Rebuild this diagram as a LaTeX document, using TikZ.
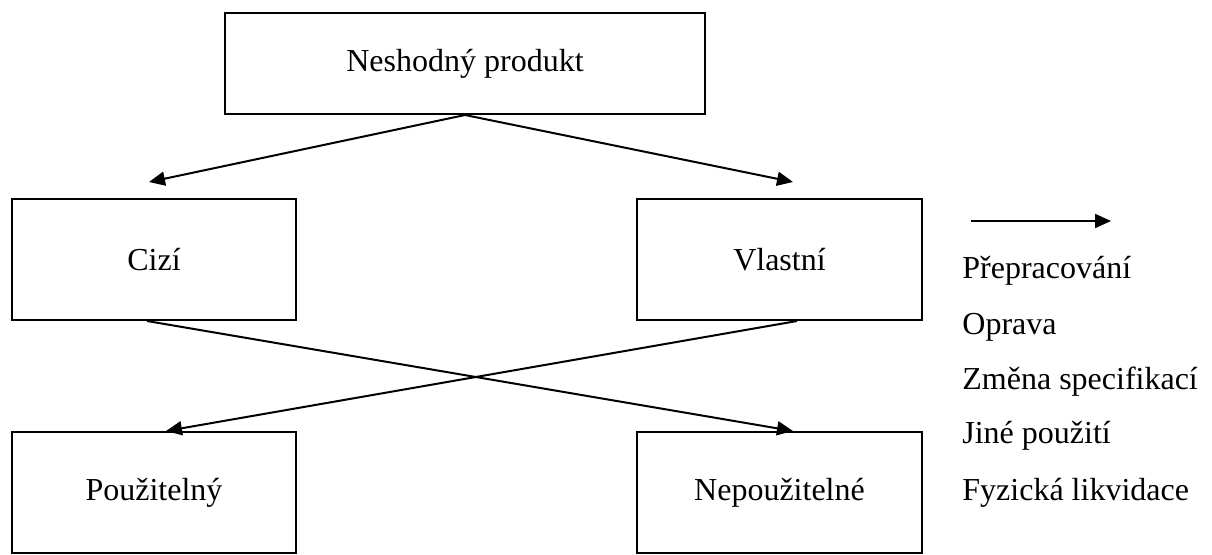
\documentclass[tikz,border=0pt]{standalone}
\usepackage{fontspec}
\setmainfont{Liberation Serif}
\usetikzlibrary{arrows.meta}
\tikzset{
  box/.style={draw, line width=1pt, minimum width=142pt, minimum height=60.5pt,
    inner sep=0pt, font=\fontsize{16}{19}\selectfont},
  conn/.style={line width=1pt, -{Triangle[length=8pt,width=7pt]}},
  legtext/.style={anchor=base west, inner sep=0pt, font=\fontsize{16}{19}\selectfont}
}
\begin{document}
\begin{tikzpicture}[x=0.5pt,y=-0.5pt]
  \useasboundingbox (0,0) rectangle (1212,554);
  % boxes
  \node[box, minimum width=240pt, minimum height=50.5pt] (neshodny) at (465,63.5) {Neshodný produkt};
  \node[box] (cizi) at (154,259.5) {Cizí};
  \node[box, minimum width=142.5pt] (vlastni) at (779.5,259.5) {Vlastní};
  \node[box] (pouzitelny) at (154,492.5) {Použitelný};
  \node[box, minimum width=142.5pt] (nepouzitelne) at (779.5,492.5) {Nepoužitelné};

  % arrows
  \draw[conn] (neshodny.south) -- ([xshift=-2.5pt,yshift=8pt]cizi.north);
  \draw[conn] (neshodny.south) -- ([xshift=6.75pt,yshift=8pt]vlastni.north);
  \draw[conn] ([xshift=-3.5pt]cizi.south) -- ([xshift=6.75pt]nepouzitelne.north);
  \draw[conn] ([xshift=8.75pt]vlastni.south) -- ([xshift=6pt]pouzitelny.north);

  % legend
  \coordinate (legstart) at (971,221);
  \coordinate (legend) at (1111,221);
  \draw[conn] (legstart) -- (legend);
  \foreach \name/\y/\txt in {prepracovani/278/Přepracování, oprava/334/Oprava,
      zmena/389/Změna specifikací, jine/443/Jiné použití, likvidace/500/Fyzická likvidace}
    \node[legtext] (\name) at (962,\y) {\txt};
\end{tikzpicture}
\end{document}
